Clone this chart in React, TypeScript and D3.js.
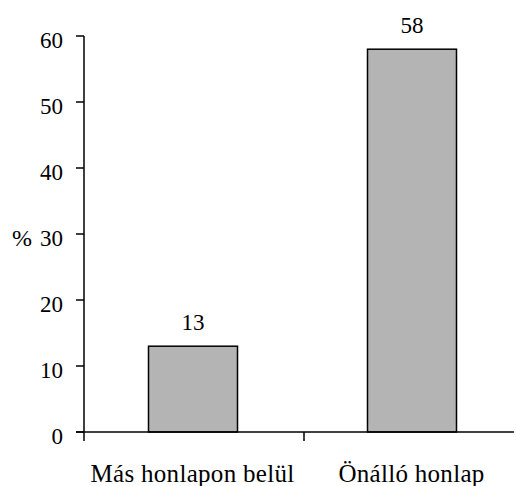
import * as d3 from 'd3'

const categories = ['Más honlapon belül', 'Önálló honlap']
const values = [13, 58]
const yTicks = [0, 10, 20, 30, 40, 50, 60]

const W = 517
const H = 486
const FONT = 'Liberation Serif'

export default function App() {
  const x = d3.scaleBand<string>().domain(categories).range([85, 523]).padding(0)
  const y = d3.scaleLinear().domain([0, 60]).range([432, 36])
  const barW = 89
  const center = (c: string) => (x(c) || 0) + x.bandwidth() / 2
  const txt = (size: number) => ({ fontFamily: FONT, fontSize: size + 'px' })

  return (
    <div style={{ position: 'absolute', left: 0, top: 0, background: '#fff', fontFamily: FONT }}>
      <svg width={W} height={H} style={{ display: 'block', fontFamily: FONT }}>
        {/* bars */}
        {values.map((v, i) => (
          <rect
            key={'b' + i}
            x={center(categories[i]) - 1.5 - barW / 2}
            y={y(v)}
            width={barW}
            height={y(0) - y(v)}
            fill="#b4b4b4"
            stroke="#000"
            strokeWidth={1.5}
          />
        ))}

        {/* value labels */}
        {values.map((v, i) => (
          <text key={'v' + i} x={center(categories[i]) - 1.5} y={y(v) - 16} textAnchor="middle" style={txt(23)}>
            {v}
          </text>
        ))}

        {/* axes */}
        <g stroke="#000" strokeWidth={1.5}>
          <line x1={84} x2={84} y1={y(60)} y2={y(0) + 9} />
          {yTicks.map(t => (
            <line key={'yt' + t} x1={76} x2={84} y1={y(t)} y2={y(t)} />
          ))}
          <line x1={76} x2={514} y1={y(0)} y2={y(0)} />
          {categories.slice(1).map(c => (
            <line key={'xt' + c} x1={x(c)} x2={x(c)} y1={y(0)} y2={y(0) + 9} />
          ))}
        </g>

        {yTicks.map(t => (
          <text key={'yl' + t} x={63} y={y(t) + 12} textAnchor="end" style={txt(23)}>
            {t}
          </text>
        ))}
        <text x={12} y={y(30) + 12} style={txt(24)}>
          %
        </text>

        {categories.map(c => (
          <text key={'xl' + c} x={center(c) - 2} y={482} textAnchor="middle" letterSpacing={0.3} style={txt(25)}>
            {c}
          </text>
        ))}
      </svg>
    </div>
  )
}
